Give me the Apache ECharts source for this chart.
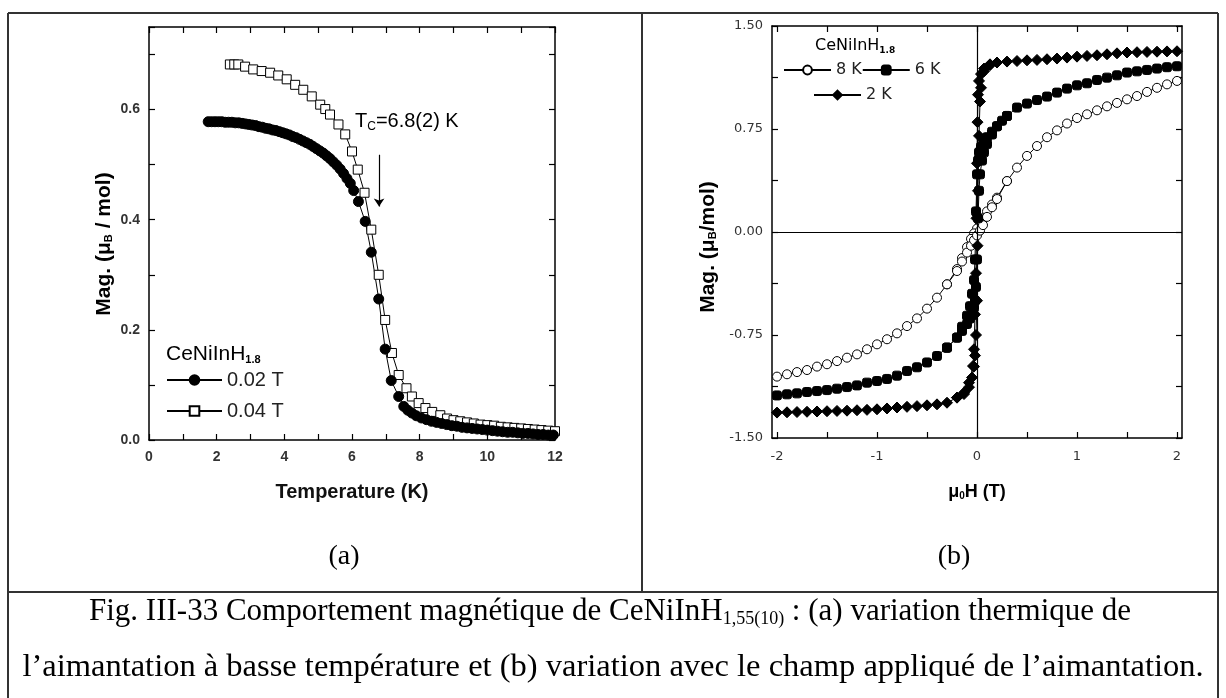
<!DOCTYPE html>
<html>
<head>
<meta charset="utf-8">
<title>CeNiInH</title>
<script src="https://cdn.jsdelivr.net/npm/echarts@6.0.0/dist/echarts.min.js"></script>
<style>
html, body { margin: 0; padding: 0; background: #fff; }
#main { width: 1226px; height: 698px; }
</style>
</head>
<body>
<div id="main"></div>
<script>
// (a) aimantation vs temperature
var t002 = [1.75,1.85,1.95,2.05,2.15,2.25,2.35,2.45,2.55,2.65,2.75,2.85,2.95,3.05,3.15,3.25,3.35,3.45,3.55,3.65,3.75,3.85,3.95,4.05,4.15,4.25,4.35,4.45,4.55,4.65,4.75,4.85,4.95,5.05,5.15,5.25,5.35,5.45,5.55,5.65,5.75,5.85,5.95,6.05,
	6.19,6.39,6.57,6.79,6.98,7.16,7.38,7.53,7.65,7.77,7.9,
	8.05,8.2,8.35,8.5,8.65,8.8,8.95,9.1,9.25,9.4,9.55,9.7,9.85,10.0,10.15,10.3,10.45,10.6,10.75,10.9,11.05,11.2,11.35,11.5,11.65,11.8,11.95];
var m002 = [0.578,0.578,0.578,0.578,0.578,0.577,0.577,0.577,0.576,0.576,0.575,0.574,0.573,0.572,0.571,0.569,0.568,0.566,0.565,0.563,0.562,0.560,0.558,0.556,0.554,0.551,0.549,0.546,0.543,0.540,0.537,0.533,0.529,0.525,0.521,0.516,0.511,0.505,0.499,0.492,0.484,0.475,0.466,0.453,
	0.433,0.397,0.341,0.256,0.165,0.108,0.079,0.061,0.054,0.049,0.044,
	0.040,0.037,0.034,0.032,0.030,0.028,0.026,0.025,0.023,0.022,0.021,0.020,0.019,0.018,0.017,0.016,0.015,0.014,0.014,0.013,0.012,0.012,0.011,0.010,0.010,0.009,0.009];
var t004 = [2.39,2.52,2.64,2.84,3.08,3.33,3.58,3.82,4.07,4.32,4.56,4.81,5.06,5.21,5.35,5.6,5.8,6.0,6.17,6.37,6.57,6.79,6.98,7.18,7.38,7.61,7.77,7.97,8.17,8.37,8.61,8.81,
	9.0,9.2,9.4,9.6,9.8,10.0,10.2,10.4,10.6,10.8,11.0,11.2,11.4,11.6,11.8,12.0];
var m004 = [0.682,0.682,0.682,0.678,0.673,0.670,0.667,0.662,0.655,0.645,0.636,0.624,0.609,0.601,0.591,0.573,0.555,0.524,0.491,0.449,0.382,0.300,0.218,0.158,0.118,0.094,0.079,0.067,0.058,0.051,0.045,0.039,
	0.036,0.034,0.032,0.030,0.028,0.027,0.026,0.024,0.023,0.022,0.021,0.020,0.019,0.018,0.017,0.016];
// fleche Tc
var tcArrow = [[6.8, 0.518], [6.8, 0.424]];

// (b) aimantation vs champ : branche descendante (+2 -> -2) et retour pres de zero
var h8Down = [2.0,1.9,1.8,1.7,1.6,1.5,1.4,1.3,1.2,1.1,1.0,0.9,0.8,0.7,0.6,0.5,0.4,0.3,0.2,0.15,0.1,0.06,0.03,0,-0.03,-0.06,-0.1,-0.15,-0.2,-0.3,-0.4,-0.5,-0.6,-0.7,-0.8,-0.9,-1.0,-1.1,-1.2,-1.3,-1.4,-1.5,-1.6,-1.7,-1.8,-1.9,-2.0];
var m8Down = [1.10,1.075,1.05,1.02,0.99,0.966,0.94,0.915,0.886,0.857,0.83,0.79,0.74,0.69,0.626,0.554,0.469,0.371,0.25,0.2,0.15,0.1,0.06,0.025,-0.01,-0.05,-0.11,-0.19,-0.27,-0.381,-0.478,-0.558,-0.629,-0.685,-0.738,-0.781,-0.818,-0.854,-0.891,-0.915,-0.94,-0.963,-0.98,-1.005,-1.02,-1.036,-1.053];
var h8Up = [-0.3,-0.2,-0.15,-0.1,-0.06,-0.03,0,0.03,0.06,0.1,0.15,0.2,0.3];
var m8Up = [-0.381,-0.284,-0.215,-0.15,-0.1,-0.06,-0.025,0.01,0.05,0.11,0.18,0.24,0.371];

var h6Down = [2.0,1.9,1.8,1.7,1.6,1.5,1.4,1.3,1.2,1.1,1.0,0.9,0.8,0.7,0.6,0.5,0.4,0.3,0.25,0.2,0.15,0.1,0.07,0.04,0.02,0.01,0,-0.01,-0.02,-0.03,-0.05,-0.07,-0.1,-0.15,-0.2,-0.3,-0.4,-0.5,-0.6,-0.7,-0.8,-0.9,-1.0,-1.1,-1.2,-1.3,-1.4,-1.5,-1.6,-1.7,-1.8,-1.9,-2.0];
var m6Down = [1.207,1.20,1.19,1.18,1.17,1.161,1.141,1.124,1.107,1.083,1.068,1.044,1.015,0.986,0.961,0.935,0.906,0.845,0.81,0.77,0.73,0.69,0.66,0.62,0.58,0.52,0.42,0.15,-0.2,-0.35,-0.45,-0.54,-0.61,-0.69,-0.769,-0.842,-0.903,-0.95,-0.985,-1.012,-1.046,-1.07,-1.085,-1.097,-1.117,-1.129,-1.141,-1.151,-1.158,-1.165,-1.175,-1.182,-1.19];
var h6Up = [-0.3,-0.2,-0.15,-0.1,-0.07,-0.05,-0.03,-0.02,-0.01,0,0.01,0.02,0.03,0.05,0.07,0.1,0.15,0.2,0.3];
var m6Up = [-0.842,-0.769,-0.72,-0.67,-0.63,-0.6,-0.55,-0.5,-0.4,-0.2,0.1,0.3,0.42,0.52,0.58,0.64,0.71,0.77,0.845];

var h2Down = [2.0,1.9,1.8,1.7,1.6,1.5,1.4,1.3,1.2,1.1,1.0,0.9,0.8,0.7,0.6,0.5,0.4,0.3,0.2,0.13,0.07,0.04,0.02,0.01,0.005,0,-0.005,-0.01,-0.02,-0.03,-0.04,-0.08,-0.13,-0.2,-0.3,-0.4,-0.5,-0.6,-0.7,-0.8,-0.9,-1.0,-1.1,-1.2,-1.3,-1.4,-1.5,-1.6,-1.7,-1.8,-1.9,-2.0];
var m2Down = [1.316,1.315,1.313,1.311,1.309,1.307,1.301,1.294,1.287,1.282,1.277,1.27,1.263,1.258,1.253,1.25,1.245,1.241,1.234,1.221,1.19,1.15,1.10,1.0,0.8,0.5,0.1,-0.3,-0.6,-0.854,-0.976,-1.097,-1.17,-1.206,-1.243,-1.255,-1.262,-1.268,-1.273,-1.278,-1.285,-1.291,-1.295,-1.298,-1.301,-1.303,-1.305,-1.307,-1.309,-1.311,-1.313,-1.315];
var h2Up = [-0.2,-0.13,-0.08,-0.05,-0.03,-0.02,-0.01,0,0.005,0.01,0.02,0.03,0.04,0.07,0.13,0.2];
var m2Up = [-1.206,-1.18,-1.13,-1.06,-0.98,-0.9,-0.75,-0.5,-0.1,0.3,0.7,0.95,1.05,1.17,1.215,1.234];

// graduations
var hTicks = [-2,-1.5,-1,-0.5,0,0.5,1,1.5,2];
var hLabels = [-2,-1,0,1,2];

function zip(xs, ys) {
	var out = [];
	for (var i = 0; i < xs.length; i++) out.push([xs[i], ys[i]]);
	return out;
}

var myChart = echarts.init(document.getElementById('main'));

var black = '#000';
var leftFont = 'Liberation Sans';
var rightFont = 'DejaVu Sans';

// axe avec cadre (ticks vers l'interieur)
function frameAxis(grid, pos, min, max, extra, showLabel, font) {
	var ax = {
		type: 'value',
		gridIndex: grid,
		position: pos,
		min: min,
		max: max,
		axisLine: { show: true, onZero: false, lineStyle: { color: black, width: 1.5 } },
		axisTick: { show: true, inside: true, length: 6, lineStyle: { color: black, width: 1.2 } },
		axisLabel: {
			show: showLabel,
			margin: 9,
			fontFamily: font,
			fontWeight: font === leftFont ? 'bold' : 'normal',
			fontSize: font === leftFont ? 14 : 13,
			color: '#333'
		},
		splitLine: { show: false }
	};
	for (var k in extra) {
		if (k === 'axisLabel' || k === 'axisTick') {
			for (var j in extra[k]) ax[k][j] = extra[k][j];
		} else {
			ax[k] = extra[k];
		}
	}
	return ax;
}

var evenInt = function (v) { return (Math.round(v) % 2 === 0) ? String(Math.round(v)) : ''; };
var evenTenth = function (v) {
	var r = Math.round(v * 10);
	return (Math.abs(v * 10 - r) < 1e-6 && r % 2 === 0) ? (r / 10).toFixed(1) : '';
};
var quarter = function (v) {
	var q = v / 0.75;
	return Math.abs(q - Math.round(q)) < 1e-6 ? v.toFixed(2) : '';
};

var sub = function (size, weight, font, pad) {
	return { fontSize: size, fontWeight: weight, fontFamily: font, color: '#111', lineHeight: size + 2, padding: [pad, 0, 0, 0] };
};
var main = function (size, weight, font) {
	return { fontSize: size, fontWeight: weight, fontFamily: font, color: '#111', lineHeight: size + 6 };
};

var border = { stroke: '#333', lineWidth: 2 };

var baseLine = {
	type: 'line',
	lineStyle: { color: black, width: 1 },
	emphasis: { disabled: true },
	animation: false
};
function mk(name, xi, data, symbol, size, fill, extra) {
	var s = {};
	for (var k in baseLine) s[k] = baseLine[k];
	s.name = name;
	s.xAxisIndex = xi;
	s.yAxisIndex = xi;
	s.data = data;
	s.symbol = symbol;
	s.symbolSize = size;
	s.itemStyle = { color: fill, borderColor: black, borderWidth: 1 };
	for (var e in extra || {}) s[e] = extra[e];
	return s;
}

var option = {
	animation: false,
	backgroundColor: '#fff',
	grid: [
		{ left: 149, top: 27, width: 406, height: 413 },
		{ left: 772, top: 26, width: 410, height: 412 }
	],
	xAxis: [
		frameAxis(0, 'bottom', 0, 12, { interval: 1, axisLabel: { formatter: evenInt, margin: 10 } }, true, leftFont),
		frameAxis(0, 'top', 0, 12, { interval: 1 }, false, leftFont),
		frameAxis(1, 'bottom', -2.05, 2.05, { axisTick: { customValues: hTicks }, axisLabel: { customValues: hLabels, margin: 12 } }, true, rightFont),
		frameAxis(1, 'top', -2.05, 2.05, { axisTick: { customValues: hTicks } }, false, rightFont)
	],
	yAxis: [
		frameAxis(0, 'left', 0, 0.75, { interval: 0.1, axisLabel: { formatter: evenTenth } }, true, leftFont),
		frameAxis(0, 'right', 0, 0.75, { interval: 0.1 }, false, leftFont),
		frameAxis(1, 'left', -1.5, 1.5, { interval: 0.375, axisLabel: { formatter: quarter } }, true, rightFont),
		frameAxis(1, 'right', -1.5, 1.5, { interval: 0.375 }, false, rightFont)
	],
	legend: [
		{
			left: 166, top: 370, orient: 'vertical', padding: 0, itemGap: 11,
			itemWidth: 55, itemHeight: 12,
			data: ['0.02 T', '0.04 T'],
			textStyle: { fontFamily: leftFont, fontSize: 20, color: '#222' }
		},
		{
			left: 783, top: 62, orient: 'horizontal', padding: 0, itemGap: 0,
			itemWidth: 47, itemHeight: 11,
			data: ['8 K', '6 K'],
			textStyle: { fontFamily: rightFont, fontSize: 16, color: '#222' }
		},
		{
			left: 813, top: 87, orient: 'horizontal', padding: 0, itemGap: 0,
			itemWidth: 47, itemHeight: 11,
			data: ['2 K'],
			textStyle: { fontFamily: rightFont, fontSize: 16, color: '#222' }
		}
	],
	series: [
		mk('0.04 T', 0, zip(t004, m004), 'rect', 9, '#fff'),
		mk('0.02 T', 0, zip(t002, m002), 'circle', 10, black, {
			markLine: {
				silent: true,
				symbol: ['none', 'arrow'],
				symbolSize: 8,
				label: { show: false },
				lineStyle: { color: black, width: 1.2, type: 'solid' },
				data: [[{ coord: tcArrow[0] }, { coord: tcArrow[1] }]]
			}
		}),
		mk('8 K', 2, zip(h8Down, m8Down), 'circle', 9, '#fff', {
			markLine: {
				silent: true,
				symbol: ['none', 'none'],
				label: { show: false },
				lineStyle: { color: black, width: 1.2, type: 'solid' },
				data: [{ xAxis: 0 }, { yAxis: 0 }]
			}
		}),
		mk('8 K retour', 2, zip(h8Up, m8Up), 'circle', 9, '#fff'),
		mk('6 K', 2, zip(h6Down, m6Down), 'roundRect', 9, black),
		mk('6 K retour', 2, zip(h6Up, m6Up), 'roundRect', 9, black),
		mk('2 K', 2, zip(h2Down, m2Down), 'diamond', 11, black),
		mk('2 K retour', 2, zip(h2Up, m2Up), 'diamond', 11, black)
	],
	graphic: [
		// cadre du tableau
		{ type: 'line', shape: { x1: 8, y1: 13, x2: 1218, y2: 13 }, style: border },
		{ type: 'line', shape: { x1: 8, y1: 13, x2: 8, y2: 698 }, style: border },
		{ type: 'line', shape: { x1: 1218, y1: 13, x2: 1218, y2: 698 }, style: border },
		{ type: 'line', shape: { x1: 8, y1: 592, x2: 1218, y2: 592 }, style: border },
		{ type: 'line', shape: { x1: 642, y1: 13, x2: 642, y2: 592 }, style: border },
		// titres des axes
		{ type: 'text', x: 104, y: 244, rotation: Math.PI / 2, style: {
			text: '{n|Mag. (μ}{s|B}{n| / mol)}', align: 'center', verticalAlign: 'middle',
			rich: { n: main(21, 'bold', leftFont), s: sub(11, 'bold', leftFont, 10) }
		} },
		{ type: 'text', x: 352, y: 492, style: {
			text: 'Temperature (K)', align: 'center', verticalAlign: 'middle',
			font: 'bold 20px "Liberation Sans"', fill: '#111'
		} },
		{ type: 'text', x: 708, y: 247, rotation: Math.PI / 2, style: {
			text: '{n|Mag. (μ}{s|B}{n|/mol)}', align: 'center', verticalAlign: 'middle',
			rich: { n: main(21, 'bold', leftFont), s: sub(11, 'bold', leftFont, 10) }
		} },
		{ type: 'text', x: 977, y: 492, style: {
			text: '{n|μ}{s|0}{n|H (T)}', align: 'center', verticalAlign: 'middle',
			rich: { n: main(18, 'bold', leftFont), s: sub(10, 'bold', leftFont, 9) }
		} },
		// annotations et titres de legende
		{ type: 'text', x: 355, y: 121, style: {
			text: '{n|T}{s|C}{n|=6.8(2) K}', align: 'left', verticalAlign: 'middle',
			rich: { n: main(20, 'normal', leftFont), s: sub(12, 'normal', leftFont, 11) }
		} },
		{ type: 'text', x: 166, y: 354, style: {
			text: '{n|CeNiInH}{s|1.8}', align: 'left', verticalAlign: 'middle',
			rich: { n: main(21, 'normal', leftFont), s: sub(11, 'bold', leftFont, 12) }
		} },
		{ type: 'text', x: 815, y: 46, style: {
			text: '{n|CeNiInH}{s|1.8}', align: 'left', verticalAlign: 'middle',
			rich: { n: main(16, 'normal', rightFont), s: sub(9, 'bold', rightFont, 9) }
		} },
		// (a) (b)
		{ type: 'text', x: 344, y: 557, style: { text: '(a)', align: 'center', verticalAlign: 'middle', font: '28px "Liberation Serif"', fill: '#000' } },
		{ type: 'text', x: 954, y: 557, style: { text: '(b)', align: 'center', verticalAlign: 'middle', font: '28px "Liberation Serif"', fill: '#000' } },
		// legende de la figure
		{ type: 'text', x: 610, y: 612, style: {
			text: '{c|Fig. III-33 Comportement magnétique de CeNiInH}{cs|1,55(10)}{c| : (a) variation thermique de}',
			align: 'center', verticalAlign: 'middle',
			rich: { c: main(31, 'normal', 'Liberation Serif'), cs: sub(18, 'normal', 'Liberation Serif', 14) }
		} },
		{ type: 'text', x: 613, y: 667, style: {
			text: 'l’aimantation à basse température et (b) variation avec le champ appliqué de l’aimantation.',
			align: 'center', verticalAlign: 'middle',
			font: '32.5px "Liberation Serif"', fill: '#000'
		} }
	]
};

myChart.setOption(option);
</script>
</body>
</html>
